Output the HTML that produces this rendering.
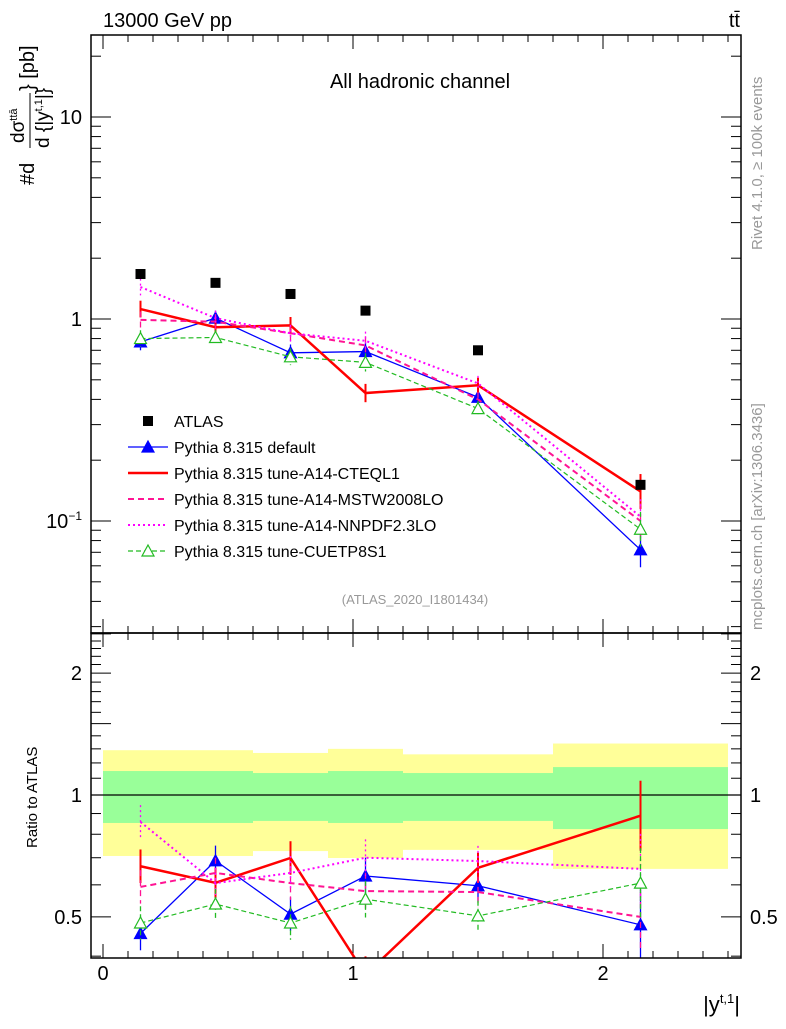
<!DOCTYPE html>
<html><head><meta charset="utf-8"><style>
body{margin:0;background:#fff}
svg{font-family:"Liberation Sans",sans-serif}
</style></head><body>
<svg id="c" width="786" height="1024" viewBox="0 0 786 1024">
<g id="bands"></g>
<g id="grid"></g>
<g id="series"></g>
<rect x="91" y="35" width="650" height="598" fill="none" stroke="#000" stroke-width="1.5"/>
<rect x="91" y="633" width="650" height="325" fill="none" stroke="#000" stroke-width="1.5"/>
<text x="103" y="27" font-size="20">13000 GeV pp</text>
<text x="740" y="27" font-size="20" text-anchor="end">tt̄</text>
<text x="420" y="88" font-size="20" text-anchor="middle">All hadronic channel</text>
<text x="415" y="604" font-size="13" fill="#999" text-anchor="middle">(ATLAS_2020_I1801434)</text>
<text transform="translate(762,250) rotate(-90)" font-size="15" fill="#999">Rivet 4.1.0, ≥ 100k events</text>
<text transform="translate(762,630) rotate(-90)" font-size="15" fill="#999">mcplots.cern.ch [arXiv:1306.3436]</text>
<g font-size="20">
<text transform="translate(34,185) rotate(-90)">#d</text>
<text transform="translate(24,143) rotate(-90)" font-size="19">dσ<tspan font-size="11" dy="-7">ttā</tspan></text>
<line x1="30" y1="148" x2="30" y2="93" stroke="#000" stroke-width="1"/>
<text transform="translate(49,148) rotate(-90)" font-size="19">d {|y<tspan font-size="11" dy="-7">t,1</tspan><tspan dy="7">|}</tspan></text>
<text transform="translate(34,91) rotate(-90)">} [pb]</text>
</g>
<text transform="translate(37,848) rotate(-90)" font-size="15">Ratio to ATLAS</text>
<text x="740" y="1012" font-size="22" text-anchor="end">|y<tspan font-size="13" dy="-9">t,1</tspan><tspan dy="9">|</tspan></text>
<g id="legend"></g>
</svg>
<script>
const binEdges=[0,0.3,0.6,0.9,1.2,1.8,2.5];
const xCenters=[0.15,0.45,0.75,1.05,1.5,2.15];
const atlas=[1.67,1.51,1.33,1.10,0.70,0.151];
const bandYellowHi=[1.29,1.29,1.27,1.30,1.26,1.34];
const bandYellowLo=[0.707,0.707,0.727,0.699,0.732,0.657];
const bandGreenHi=[1.146,1.146,1.133,1.146,1.133,1.172];
const bandGreenLo=[0.853,0.853,0.863,0.853,0.863,0.824];
const sDefault=[0.77,1.01,0.68,0.69,0.41,0.072];
const sCTEQ=[1.12,0.91,0.93,0.43,0.47,0.14];
const sMSTW=[0.99,0.97,0.85,0.74,0.40,0.10];
const sNNPDF=[1.44,1.01,0.85,0.78,0.48,0.105];
const sCUETP=[0.80,0.81,0.65,0.61,0.36,0.091];
const rDefault=[0.455,0.688,0.508,0.631,0.597,0.478];
const rCTEQ=[0.667,0.607,0.699,0.36,0.661,0.889];
const rMSTW=[0.593,0.642,0.606,0.579,0.576,0.50];
const rNNPDF=[0.858,0.606,0.642,0.700,0.687,0.657];
const rCUETP=[0.483,0.538,0.483,0.553,0.503,0.606];
const relErr=[0.10,0.09,0.10,0.11,0.09,0.22];
const legendLabels=["ATLAS","Pythia 8.315 default","Pythia 8.315 tune-A14-CTEQL1","Pythia 8.315 tune-A14-MSTW2008LO","Pythia 8.315 tune-A14-NNPDF2.3LO","Pythia 8.315 tune-CUETP8S1"];

const NS="http://www.w3.org/2000/svg";
const X=v=>103+250*v;
const Y=v=>319-202*Math.log10(v);
const R=v=>795-405*Math.log10(v);
function mk(tag,at,parent){const e=document.createElementNS(NS,tag);for(const k in at)e.setAttribute(k,at[k]);(parent||document.getElementById('c')).appendChild(e);return e;}
const bands=document.getElementById('bands'),grid=document.getElementById('grid'),ser=document.getElementById('series'),leg=document.getElementById('legend');
for(let i=0;i<atlas.length;i++){
 let e=mk('rect',{x:X(binEdges[i]),y:R(bandYellowHi[i]),width:X(binEdges[i+1])-X(binEdges[i]),height:R(bandYellowLo[i])-R(bandYellowHi[i]),fill:'#ffff99'},bands);
 
 e=mk('rect',{x:X(binEdges[i]),y:R(bandGreenHi[i]),width:X(binEdges[i+1])-X(binEdges[i]),height:R(bandGreenLo[i])-R(bandGreenHi[i]),fill:'#99ff99'},bands);
 
}
mk('line',{x1:91,x2:741,y1:R(1),y2:R(1),stroke:'#000','stroke-width':1.2},grid);
for(let k=0;k<=25;k++){const v=k/10,x=X(v),big=k%10==0,L=big?14:7;
 [[633,633-L],[958,958-L],[35,35+L],[633,633+L]].forEach(p=>mk('line',{x1:x,x2:x,y1:p[0],y2:p[1],stroke:'#000'},grid));
 if(big){const t=mk('text',{x:x,y:980,'font-size':20,'text-anchor':'middle'},grid);t.textContent=v;}}
for(let d=-2;d<=1;d++)for(let m=1;m<10;m++){const v=m*Math.pow(10,d);if(v<0.028||v>25.5)continue;const y=Y(v),L=m==1?20:10;
 mk('line',{x1:91,x2:91+L,y1:y,y2:y,stroke:'#000'},grid);mk('line',{x1:741,x2:741-L,y1:y,y2:y,stroke:'#000'},grid);}
[[10,'10'],[1,'1']].forEach(a=>{const t=mk('text',{x:82,y:Y(a[0])+7,'font-size':20,'text-anchor':'end'},grid);t.textContent=a[1];});
{const t=mk('text',{x:82,y:Y(0.1)+7,'font-size':20,'text-anchor':'end'},grid);t.innerHTML='10<tspan font-size="12" dy="-8">−1</tspan>';}
for(let k=4;k<=25;k++){const v=k/10,y=R(v),big=(k%5==0);if(y<633||y>958)continue;const L=big?20:10;
 mk('line',{x1:91,x2:91+L,y1:y,y2:y,stroke:'#000'},grid);mk('line',{x1:741,x2:741-L,y1:y,y2:y,stroke:'#000'},grid);}
[[2,'2'],[1,'1'],[0.5,'0.5']].forEach(a=>{[[82,'end'],[750,'start']].forEach(p=>{const t=mk('text',{x:p[0],y:R(a[0])+7,'font-size':20,'text-anchor':p[1]},grid);t.textContent=a[1];});});
const defs=mk('defs',{});const cp=mk('clipPath',{id:'cr'},defs);mk('rect',{x:91,y:633,width:650,height:325},cp);
const cm=mk('clipPath',{id:'cm'},defs);mk('rect',{x:91,y:35,width:650,height:598},cm);
const series=[
 {name:'default',d:sDefault,r:rDefault,c:'#0000ff',w:1.3,dash:'',mk:'tri'},
 {name:'cteql1',d:sCTEQ,r:rCTEQ,c:'#ff0000',w:2.5,dash:'',mk:'none'},
 {name:'mstw',d:sMSTW,r:rMSTW,c:'#ff1493',w:2,dash:'6,4',mk:'none'},
 {name:'nnpdf',d:sNNPDF,r:rNNPDF,c:'#ff00ff',w:2,dash:'2,3',mk:'none'},
 {name:'cuetp',d:sCUETP,r:rCUETP,c:'#22bb22',w:1.2,dash:'5,3',mk:'otri'}];
function tri(g,x,y,s,fill){return mk('path',{d:`M${x},${y-6}L${x+6},${y+5}L${x-6},${y+5}Z`,fill:fill?s.c:'#fff',stroke:s.c,'stroke-width':1.2},g);}
series.forEach(s=>{
 [['main',Y,s.d,'cm'],['ratio',R,s.r,'cr']].forEach(([pn,F,vals,clip])=>{
  const g=mk('g',{'clip-path':`url(#${clip})`},ser);
  
  const pts=vals.map((v,i)=>X(xCenters[i])+','+F(v)).join(' ');
  mk('polyline',{points:pts,fill:'none',stroke:s.c,'stroke-width':s.w,'stroke-dasharray':s.dash},g);
  vals.forEach((v,i)=>{const x=X(xCenters[i]);
   const e=mk('line',{x1:x,x2:x,y1:F(v*(1+relErr[i])),y2:F(v/(1+relErr[i])),stroke:s.c,'stroke-width':s.w>2?2:1.3,'stroke-dasharray':s.dash},g);
   
   if(s.mk=='tri')tri(g,x,F(v),s,true);else if(s.mk=='otri')tri(g,x,F(v),s,false);
  });
 });
});
const ga=mk('g',{},ser);
atlas.forEach((v,i)=>{const e=mk('rect',{x:X(xCenters[i])-5,y:Y(v)-5,width:10,height:10,fill:'#000'},ga);});
legendLabels.forEach((lab,i)=>{const y=421+26*i;const g=mk('g',{},leg);
 
 if(i==0)mk('rect',{x:143,y:y-5,width:10,height:10,fill:'#000'},g);
 else{const s=series[i-1];mk('line',{x1:128,x2:168,y1:y,y2:y,stroke:s.c,'stroke-width':s.w,'stroke-dasharray':s.dash},g);
  if(s.mk=='tri')tri(g,148,y,s,true);if(s.mk=='otri')tri(g,148,y,s,false);}
 const t=mk('text',{x:174,y:y+6,'font-size':16},g);t.textContent=lab;});
</script>
</body></html>
